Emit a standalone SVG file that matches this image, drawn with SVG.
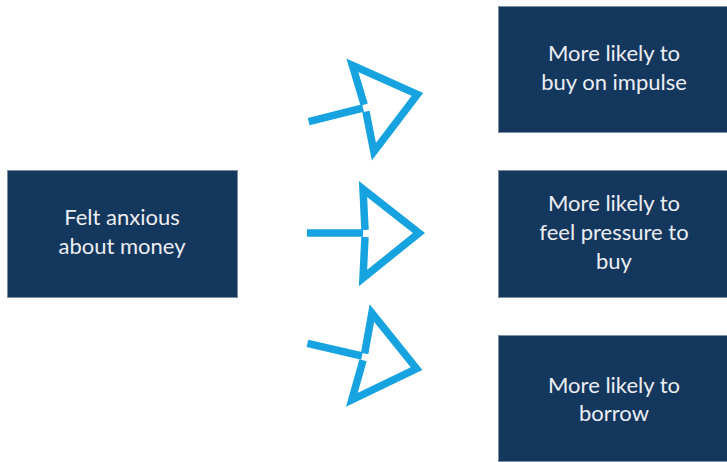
<svg xmlns="http://www.w3.org/2000/svg" width="727" height="462" viewBox="0 0 727 462">
<defs>
<style>
.box{fill:#14375e;stroke:#7d8ea6;stroke-width:1}
.t{fill:#eceef3;font-family:Lato,"Liberation Sans",sans-serif;font-size:22px;text-anchor:middle}
.arr{fill:none;stroke:#16a3df;stroke-width:7.5;stroke-linejoin:miter;stroke-linecap:butt}
</style>
<g id="arrowShape">
<path d="M0,0 L-56,0"/>
<path d="M2,-3 L0,-44 L56,0 L0,45 L2,4"/>
</g>
</defs>
<rect width="727" height="462" fill="#ffffff"/>
<g id="connectors" class="arr">
<use href="#arrowShape" transform="translate(363,108) rotate(-14)"/>
<use href="#arrowShape" transform="translate(363,233)"/>
<use href="#arrowShape" transform="translate(362,356) rotate(13)"/>
</g>
<g id="node-anxious">
<rect class="box" x="7.5" y="170.5" width="230" height="127"/>
<text class="t" x="122" y="225">Felt anxious</text>
<text class="t" x="122" y="254">about money</text>
</g>
<g id="node-impulse">
<rect class="box" x="498.5" y="6.5" width="230" height="126"/>
<text class="t" x="614" y="61">More likely to</text>
<text class="t" x="614" y="90">buy on impulse</text>
</g>
<g id="node-pressure">
<rect class="box" x="498.5" y="170.5" width="230" height="127"/>
<text class="t" x="614" y="211">More likely to</text>
<text class="t" x="614" y="240">feel pressure to</text>
<text class="t" x="614" y="269">buy</text>
</g>
<g id="node-borrow">
<rect class="box" x="498.5" y="335.5" width="230" height="126"/>
<text class="t" x="614" y="393">More likely to</text>
<text class="t" x="614" y="421">borrow</text>
</g>
</svg>
